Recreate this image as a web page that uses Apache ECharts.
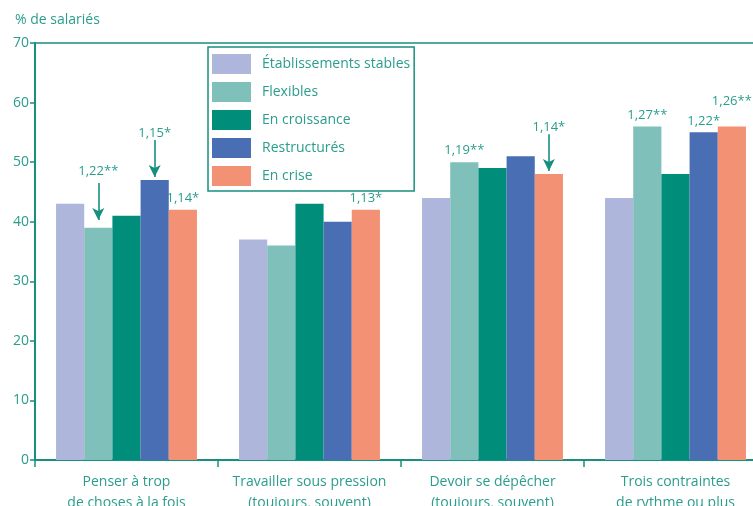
<!DOCTYPE html>
<html>
<head>
<meta charset="utf-8">
<script src="https://cdn.jsdelivr.net/npm/echarts@6/dist/echarts.min.js"></script>
<style>html,body{margin:0;padding:0;background:#fff}#c{width:753px;height:506px}</style>
</head>
<body>
<div id="c"></div>
<script>
const categories = ['Penser à trop\nde choses à la fois', 'Travailler sous pression\n(toujours, souvent)', 'Devoir se dépêcher\n(toujours, souvent)', 'Trois contraintes\nde rythme ou plus'];
const seriesNames = ['Établissements stables', 'Flexibles', 'En croissance', 'Restructurés', 'En crise'];
const stables = [43, 37, 44, 44];
const flexibles = [39, 36, 50, 56];
const croissance = [41, 43, 49, 48];
const restructures = [47, 40, 51, 55];
const crise = [42, 42, 48, 56];
const notesFlexibles = ['1,22**', '', '1,19**', '1,27**'];
const notesRestructures = ['1,15*', '', '', '1,22*'];
const notesCrise = ['1,14*', '1,13*', '1,14*', '1,26**'];
const yTicks = [0, 10, 20, 30, 40, 50, 60, 70];
// arrows: [series index, category index]
const arrows = [[1, 0], [3, 0], [4, 2]];

const colors = ['#AEB7DB', '#7FC0BA', '#008D7A', '#4A6EB4', '#F39175'];
const teal = '#2A9D8C';
const axisTeal = '#17907F';
const values = [stables, flexibles, croissance, restructures, crise];
const notes = [null, notesFlexibles, null, notesRestructures, notesCrise];

function labelDistance(s, i) {
  const isArrow = arrows.some(a => a[0] === s && a[1] === i);
  if (isArrow) return s === 1 ? 50 : 40;
  if (s === 4 && i === 3) return 19;
  return 5;
}

const series = values.map((vals, s) => {
  const arrowItems = arrows.filter(a => a[0] === s).map(a => {
    const v = vals[a[1]];
    const gap = s === 1 ? 1.3 : 0.5;
    return [{ coord: [categories[a[1]], v + gap + 6.2] }, { coord: [categories[a[1]], v + gap] }];
  });
  return {
    name: seriesNames[s],
    type: 'bar',
    barGap: '0%',
    barCategoryGap: '23%',
    itemStyle: { color: colors[s] },
    emphasis: { disabled: true },
    data: vals.map((v, i) => {
      const n = notes[s] ? notes[s][i] : '';
      const d = { value: v };
      if (n) {
        d.label = { show: true, position: 'top', distance: labelDistance(s, i), formatter: n,
          color: teal, fontSize: 13, fontFamily: 'Open Sans' };
      }
      return d;
    }),
    markLine: arrowItems.length ? {
      silent: true,
      symbol: ['none', 'arrow'],
      symbolSize: [9, 12],
      label: { show: false },
      lineStyle: { color: axisTeal, width: 1.6, type: 'solid' },
      data: arrowItems
    } : undefined
  };
});

const chart = echarts.init(document.getElementById('c'));
chart.setOption({
  animation: false,
  title: { text: '% de salariés', left: 10, top: 8,
    textStyle: { color: teal, fontSize: 14, fontWeight: 'normal', fontFamily: 'Open Sans' } },
  grid: { left: 35, top: 43, right: -14, bottom: 46, containLabel: false, outerBoundsMode: 'none',
    show: true, borderColor: axisTeal, borderWidth: 1.5, backgroundColor: 'transparent' },
  legend: {
    orient: 'vertical', left: 208, top: 47,
    data: seriesNames,
    icon: 'rect', itemWidth: 39, itemHeight: 20, itemGap: 8,
    padding: [7, 4, 5, 4],
    borderColor: axisTeal, borderWidth: 1.5, backgroundColor: '#fff',
    selectedMode: false,
    textStyle: { color: teal, fontSize: 14, fontFamily: 'Open Sans', padding: [0, 0, 0, 6] }
  },
  xAxis: {
    type: 'category', data: categories,
    axisLine: { lineStyle: { color: axisTeal, width: 2 } },
    axisTick: { show: true, length: 7, lineStyle: { color: axisTeal, width: 1.5 } },
    axisLabel: { color: teal, fontSize: 14, fontFamily: 'Open Sans', margin: 12, lineHeight: 21, interval: 0 }
  },
  yAxis: {
    type: 'value', min: yTicks[0], max: yTicks[yTicks.length - 1], interval: 10,
    axisLine: { show: true, lineStyle: { color: axisTeal, width: 2 } },
    axisTick: { show: true, length: 5, lineStyle: { color: axisTeal, width: 1.5 } },
    splitLine: { show: false },
    axisLabel: { color: teal, fontSize: 14, fontFamily: 'Open Sans', margin: 6 }
  },
  series: series
});
</script>
</body>
</html>
